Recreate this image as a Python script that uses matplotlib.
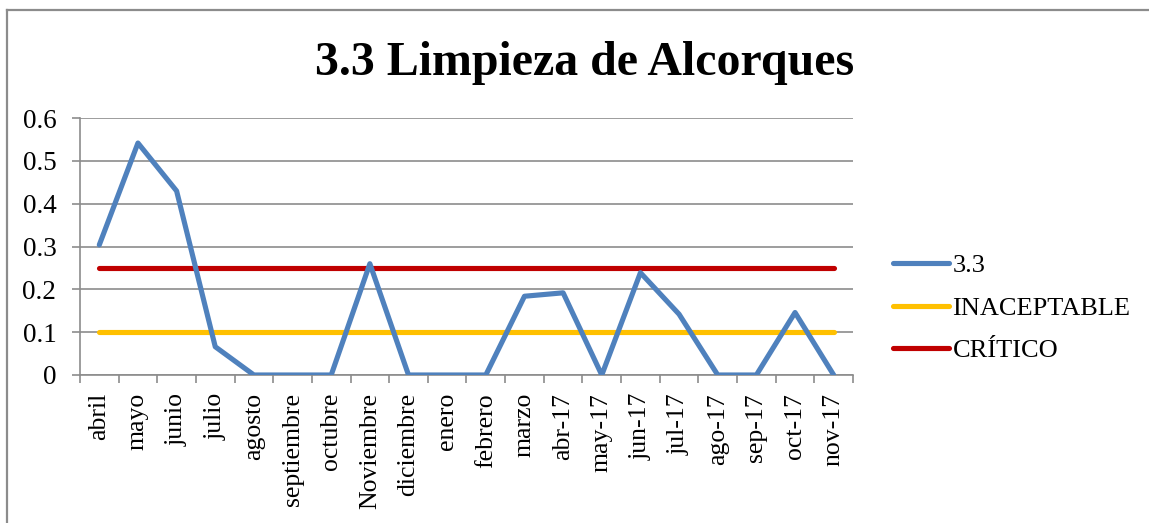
import numpy as np
import matplotlib.pyplot as plt
from matplotlib.lines import Line2D

months = ["abril", "mayo", "junio", "julio", "agosto", "septiembre", "octubre",
          "Noviembre", "diciembre", "enero", "febrero", "marzo", "abr-17",
          "may-17", "jun-17", "jul-17", "ago-17", "sep-17", "oct-17", "nov-17"]
serie_33 = [0.304, 0.542, 0.43, 0.066, 0.0, 0.0, 0.0, 0.26, 0.0, 0.0, 0.0,
            0.184, 0.192, 0.0, 0.239, 0.142, 0.0, 0.0, 0.146, 0.0]
inaceptable = [0.1] * len(months)
critico = [0.25] * len(months)

plt.rcParams["font.family"] = ["Liberation Serif", "DejaVu Serif"]

fig = plt.figure(figsize=(11.49, 5.23), dpi=100)
ax = fig.add_axes([0.0696, 0.283, 0.6728, 0.491])

x = np.arange(len(months))
ax.plot(x, serie_33, color="#4F81BD", lw=3.7, label="3.3", solid_capstyle="round", zorder=3)
ax.plot(x, inaceptable, color="#FFC000", lw=3.7, label="INACEPTABLE", solid_capstyle="round", zorder=2)
ax.plot(x, critico, color="#C00000", lw=3.7, label="CRÍTICO", solid_capstyle="round", zorder=2)

ax.set_xlim(-0.5, len(months) - 0.5)
ax.set_ylim(0, 0.6)
ax.set_yticks(np.arange(0, 0.61, 0.1))
ax.set_yticklabels(["0", "0.1", "0.2", "0.3", "0.4", "0.5", "0.6"], fontsize=19.5)
ax.yaxis.grid(True, color="#8C8C8C", lw=1.2)
ax.set_axisbelow(True)

ax.set_xticks(np.arange(-0.5, len(months), 1.0))
ax.set_xticklabels([])
ax.set_xticks(x, minor=True)
ax.set_xticklabels(months, minor=True, rotation=90, fontsize=18.5)
ax.tick_params(axis="x", which="major", length=6, color="#8C8C8C", width=1.2)
ax.tick_params(axis="x", which="minor", length=0, pad=13)
ax.tick_params(axis="y", length=6, color="#8C8C8C", width=1.2, pad=11)

for side in ["top", "right"]:
    ax.spines[side].set_visible(False)
for side in ["left", "bottom"]:
    ax.spines[side].set_color("#8C8C8C")
    ax.spines[side].set_linewidth(1.2)

fig.text(0.509, 0.88, "3.3 Limpieza de Alcorques", ha="center", va="center",
         fontsize=34.5, fontweight="bold")

ax.legend(loc="center left", bbox_to_anchor=(1.052, 0.26), frameon=False,
          fontsize=19, handlelength=2.1, handletextpad=0.15, labelspacing=0.72,
          borderpad=0, borderaxespad=0)

fig.lines.append(Line2D([0.006, 0.006], [0.0, 0.981], transform=fig.transFigure,
                        color="#8C8C8C", lw=1.6))
fig.lines.append(Line2D([0.006, 1.0], [0.981, 0.981], transform=fig.transFigure,
                        color="#8C8C8C", lw=1.6))

fig.savefig("out.png", dpi=100)
